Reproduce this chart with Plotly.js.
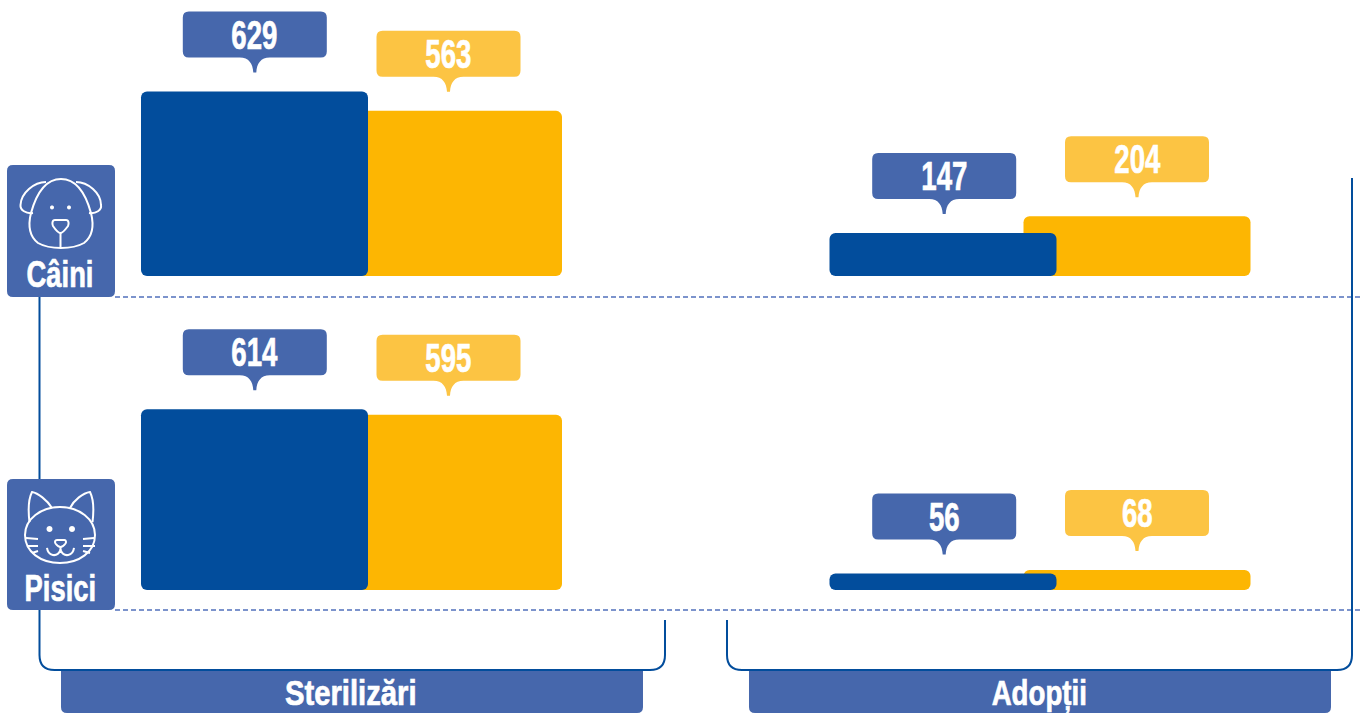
<!DOCTYPE html>
<html><head><meta charset="utf-8">
<script src="https://cdn.plot.ly/plotly-3.0.1.min.js"></script>
<style>html,body{margin:0;padding:0;background:#fff;overflow:hidden}#c{width:1363px;height:713px}</style>
</head><body><div id="c"></div>
<script>
const categories = ['Sterilizări', 'Adopții'];
const rows = ['Câini', 'Pisici'];
const blueCaini = [629, 147];
const yellowCaini = [563, 204];
const bluePisici = [614, 56];
const yellowPisici = [595, 68];

const W = 1363, H = 713;
const BLUE = '#024D9C', YEL = '#FDB602', CB = '#4667AC', CY = '#FCC443', DASH = '#7C93CC';
const FONT = '"Liberation Sans",Arial,sans-serif';
// x geometry: category spacing and bar placement, in category units
const unit = 688.5, x0 = 351.5;
const barW = 227 / unit, offBlue = -210.5 / unit, offYel = -16.5 / unit;

function barTrace(vals, color, off, ya) {
  // an explicit base makes Plotly round all four corners of each bar
  return { type: 'bar', x: categories, y: vals, base: vals.map(() => 0), width: categories.map(() => barW),
    offset: categories.map(() => off), marker: { color, line: { width: 0 } },
    yaxis: ya, showlegend: false, textposition: 'none' };
}
const data = [
  barTrace(yellowCaini, YEL, offYel, 'y'),
  barTrace(blueCaini, BLUE, offBlue, 'y'),
  barTrace(yellowPisici, YEL, offYel, 'y2'),
  barTrace(bluePisici, BLUE, offBlue, 'y2')
];

// pixel-layout path -> paper path
function P(s) {
  return s.replace(/(-?[\d.]+),(-?[\d.]+)/g, (m, a, b) => (a / W).toFixed(5) + ',' + (1 - b / H).toFixed(5));
}
function pShape(path, o) {
  return Object.assign({ type: 'path', xref: 'paper', yref: 'paper', layer: 'above', path: P(path), line: { width: 0 } }, o || {});
}
function rr(x0, y0, x1, y1, r) {
  return `M ${x0 + r},${y0} L ${x1 - r},${y0} Q ${x1},${y0} ${x1},${y0 + r} L ${x1},${y1 - r} Q ${x1},${y1} ${x1 - r},${y1} L ${x0 + r},${y1} Q ${x0},${y1} ${x0},${y1 - r} L ${x0},${y0 + r} Q ${x0},${y0} ${x0 + r},${y0} Z`;
}
function dot(cx, cy, r) {
  return `M ${cx - r},${cy} C ${cx - r},${cy - r * 1.33} ${cx + r},${cy - r * 1.33} ${cx + r},${cy} C ${cx + r},${cy + r * 1.33} ${cx - r},${cy + r * 1.33} ${cx - r},${cy} Z`;
}
const wl = { color: '#fff', width: 2 };
const stroke = p => pShape(p, { line: wl });
const fillW = p => pShape(p, { fillcolor: '#fff' });

const callout = 'M -66,34 L -15,34 C -6,34 -2,28 -1.5,19 L 1.5,19 C 2,28 6,34 15,34 L 66,34 Q 72,34 72,40 L 72,74 Q 72,80 66,80 L -66,80 Q -72,80 -72,74 L -72,40 Q -72,34 -66,34 Z';
function calloutShape(cx, v, yr, color) {
  return { type: 'path', layer: 'above', xref: 'x', yref: yr, xsizemode: 'pixel', ysizemode: 'pixel',
    xanchor: cx, yanchor: v, path: callout, fillcolor: color, line: { width: 0 } };
}
function valueLabel(cx, v, yr) {
  return { xref: 'x', yref: yr, x: cx, y: v, yshift: 57, text: String(v), showarrow: false,
    xanchor: 'center', yanchor: 'middle', font: { family: FONT, size: 40, weight: 700, color: '#fff' } };
}
const series = [[blueCaini, offBlue, 'y', CB, 1], [yellowCaini, offYel, 'y', CY, 0], [bluePisici, offBlue, 'y2', CB, 1], [yellowPisici, offYel, 'y2', CY, 0]];

const shapes = [];
// dashed separators
[297, 610].forEach(y => shapes.push(pShape(`M 115,${y} L 1363,${y}`, { line: { color: DASH, width: 2, dash: '5px 3px' } })));
// brackets
const bl = { color: BLUE, width: 2 };
shapes.push(pShape('M 39.5,297 L 39.5,655 Q 39.5,670 54.5,670 L 650,670 Q 665,670 665,655 L 665,620', { line: bl }));
shapes.push(pShape('M 727,620 L 727,655 Q 727,670 742,670 L 1337,670 Q 1352,670 1352,655 L 1352,178', { line: bl }));
// section banners
shapes.push(pShape('M 61,671 L 643,671 L 643,707 Q 643,713 637,713 L 67,713 Q 61,713 61,707 Z', { fillcolor: CB }));
shapes.push(pShape('M 749,671 L 1331,671 L 1331,707 Q 1331,713 1325,713 L 755,713 Q 749,713 749,707 Z', { fillcolor: CB }));
// row tiles
shapes.push(pShape(rr(7, 165, 115, 297, 6), { fillcolor: CB }));
shapes.push(pShape(rr(7, 479, 115, 610, 6), { fillcolor: CB }));
// dog icon
shapes.push(stroke('M 61,179 C 45,179 36,195 31,213 C 28,225 29,236 38,243 C 45,247 53,248 61,248 C 69,248 77,247 84,243 C 93,236 94,225 91,213 C 86,195 77,179 61,179 Z'));
shapes.push(stroke('M 46,182 C 34,182 21,193 20.5,205 C 20,210 26,214 33,213'));
shapes.push(stroke('M 76,182 C 88,182 101,193 101,205 C 102,210 96,214 89,213'));
shapes.push(stroke('M 55,220 L 66,220 C 69,220 69,224 68,226 C 65,230 63,233 60.5,233 C 58,233 55,229 53,226 C 52,224 52,220 55,220 Z'));
shapes.push(stroke('M 60.5,233 L 60.5,248'));
shapes.push(fillW(dot(52, 207.5, 2)));
shapes.push(fillW(dot(69, 207.5, 2)));
// cat icon
shapes.push(stroke('M 60,507 C 41,507 25,519 25,535 C 25,552 41,563 60,563 C 79,563 95,552 95,535 C 95,519 79,507 60,507 Z'));
shapes.push(stroke('M 29.5,522 C 28,510 29,498 32,492 C 38,493 47,500 52,508'));
shapes.push(stroke('M 70,508 C 74,500 83,493 90,492 C 93,498 94,510 92.5,522'));
shapes.push(stroke('M 57,540 L 64.5,540 C 66,540 66.5,542 65.5,543.5 C 64,545.5 62,547 60.5,547 C 59,547 57,545.5 55.5,543.5 C 54.5,542 55,540 57,540 Z'));
shapes.push(stroke('M 47,548 C 48,556 57,558 60.5,550 C 64,558 73,556 74,548'));
shapes.push(stroke('M 60.5,547 L 60.5,550'));
shapes.push(stroke('M 26,538 L 38,539'));
shapes.push(stroke('M 27,546 L 38,546'));
shapes.push(stroke('M 32,553 L 38,551'));
shapes.push(stroke('M 83,539 L 94,538'));
shapes.push(stroke('M 83,546 L 95,546'));
shapes.push(stroke('M 83,551 L 90,553'));
shapes.push(fillW(dot(49.5, 529, 3)));
shapes.push(fillW(dot(72, 529, 3)));

const annotations = [];
series.forEach(([vals, off, yr, color, nudge]) => vals.forEach((v, i) => {
  const cx = i + off + barW / 2 + (nudge * (i ? 1.2 : 0.3)) / unit;
  shapes.push(calloutShape(cx, v, yr, color));
  annotations.push(valueLabel(cx, v, yr));
}));
function pText(t, px, py, size) {
  return { xref: 'paper', yref: 'paper', x: px / W, y: 1 - py / H, text: t, showarrow: false,
    xanchor: 'center', yanchor: 'middle', font: { family: FONT, size, weight: 700, color: '#fff' } };
}
annotations.push(pText(rows[0], 60, 274, 36));
annotations.push(pText(rows[1], 60, 588, 37));
annotations.push(pText(categories[0], 350.5, 692.5, 35));
annotations.push(pText(categories[1], 1039, 692.5, 35));

const hiddenY = { showgrid: false, zeroline: false, showticklabels: false, ticks: '', showline: false, fixedrange: true };
const layout = {
  width: W, height: H, margin: { l: 0, r: 0, t: 0, b: 0, pad: 0 }, paper_bgcolor: '#fff', plot_bgcolor: '#fff',
  barmode: 'overlay', barcornerradius: 6, showlegend: false,
  xaxis: { type: 'category', categoryorder: 'array', categoryarray: categories, range: [-x0 / unit, (W - x0) / unit],
    showgrid: false, zeroline: false, showticklabels: false, ticks: '', showline: false, fixedrange: true },
  yaxis: Object.assign({ domain: [(H - 276) / H, 1], range: [0, 276 / 0.2933] }, hiddenY),
  yaxis2: Object.assign({ domain: [(H - 590) / H, (H - 297) / H], range: [0, 293 / 0.2945] }, hiddenY),
  shapes, annotations
};
// horizontal squeeze that imitates the reference's condensed typeface
const squeeze = { 'Câini': 0.76, 'Pisici': 0.74, 'Sterilizări': 0.835, 'Adopții': 0.79 };
Plotly.newPlot('c', data, layout, { displayModeBar: false, staticPlot: true }).then(() => {
  document.querySelectorAll('#c .annotation-text').forEach(t => {
    const k = squeeze[t.textContent] || 0.69;
    t.setAttribute('textLength', (t.getComputedTextLength() * k).toFixed(1));
    t.setAttribute('lengthAdjust', 'spacingAndGlyphs');
    t.style.stroke = '#fff';
    t.style.strokeWidth = '0.7px';
  });
});
</script></body></html>
